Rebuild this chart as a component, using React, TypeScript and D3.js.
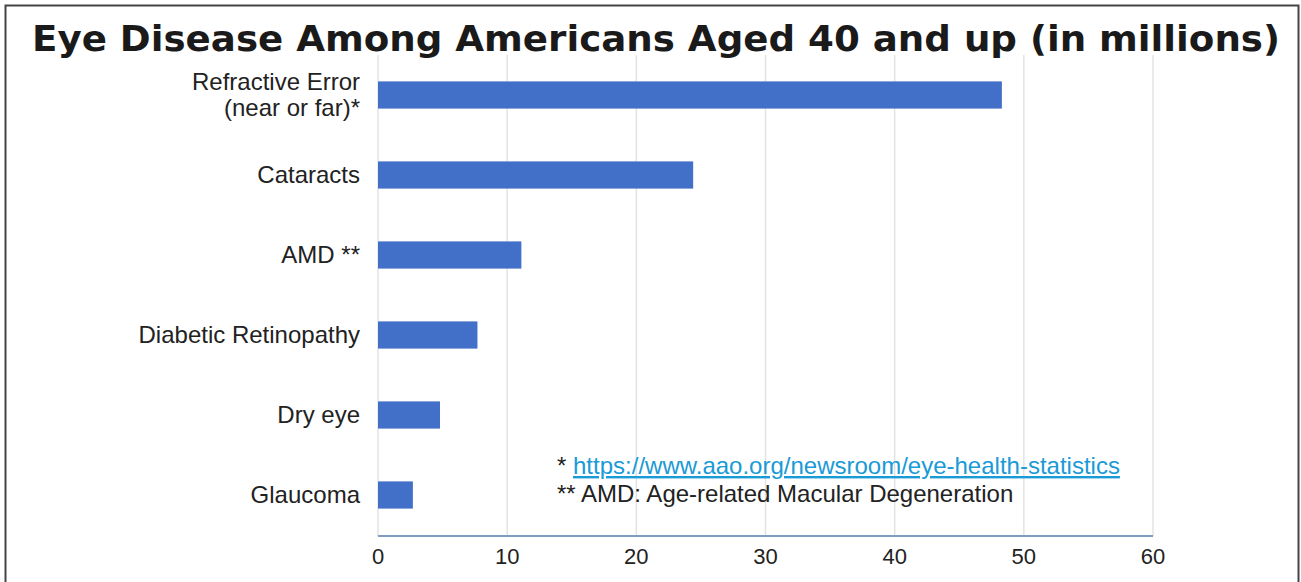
import React from "react";
import * as d3 from "d3";

const categories = [
  ["Refractive Error", "(near or far)*"],
  ["Cataracts"],
  ["AMD **"],
  ["Diabetic Retinopathy"],
  ["Dry eye"],
  ["Glaucoma"],
];
const values = [48.3, 24.4, 11.1, 7.7, 4.8, 2.7];
const xTicks = [0, 10, 20, 30, 40, 50, 60];
const title = "Eye Disease Among Americans Aged 40 and up (in millions)";
const footnote1Prefix = "* ";
const footnote1Link = "https://www.aao.org/newsroom/eye-health-statistics";
const footnote2 = "** AMD: Age-related Macular Degeneration";

const W = 1301;
const H = 582;

export default function App() {
  const x = d3.scaleLinear().domain([0, 60]).range([378, 1153]);
  const y = d3
    .scaleBand<number>()
    .domain(d3.range(categories.length))
    .range([55, 535])
    .paddingInner(0.66)
    .paddingOuter(0.33);
  const bw = y.bandwidth();
  const labelFont = "'Liberation Sans', Arial, sans-serif";

  return (
    <svg
      width={W}
      height={H}
      style={{ position: "absolute", left: 0, top: 0, background: "#fff" }}
    >
      <rect x={0} y={0} width={W} height={H} fill="#fff" />
      <rect
        x={5.5}
        y={5.5}
        width={1293}
        height={H + 20}
        fill="none"
        stroke="#444"
        strokeWidth={2}
      />
      <text
        x={656}
        y={51}
        textAnchor="middle"
        fontFamily="'DejaVu Sans', Verdana, sans-serif"
        fontWeight="bold"
        fontSize={36}
        fill="#1a1a1a"
        textLength={1248}
        lengthAdjust="spacingAndGlyphs"
      >
        {title}
      </text>
      {xTicks.map((t) => (
        <line
          key={"g" + t}
          x1={x(t)}
          x2={x(t)}
          y1={55}
          y2={536}
          stroke="#e3e3e3"
          strokeWidth={1.5}
        />
      ))}
      {values.map((v, i) => (
        <rect
          key={"b" + i}
          x={x(0)}
          y={y(i)}
          width={x(v) - x(0)}
          height={bw}
          fill="#4270C8"
        />
      ))}
      <line x1={x(0)} x2={x(60)} y1={536} y2={536} stroke="#7f9dc0" strokeWidth={2} />
      {xTicks.map((t) => (
        <text
          key={"t" + t}
          x={x(t)}
          y={564}
          textAnchor="middle"
          fontFamily={labelFont}
          fontSize={22}
          fill="#222"
        >
          {t}
        </text>
      ))}
      {categories.map((lines, i) => {
        const cy = (y(i) as number) + bw / 2;
        const lh = 26;
        const start = cy - ((lines.length - 1) * lh) / 2;
        return (
          <text
            key={"c" + i}
            textAnchor="end"
            fontFamily={labelFont}
            fontSize={24}
            fill="#222"
          >
            {lines.map((l, j) => (
              <tspan key={j} x={360} y={start + j * lh + 8}>
                {l}
              </tspan>
            ))}
          </text>
        );
      })}
      <text x={557} y={474} fontFamily={labelFont} fontSize={24} fill="#222">
        {footnote1Prefix}
        <tspan fill="#1a9ad6" textDecoration="underline">
          {footnote1Link}
        </tspan>
      </text>
      <text x={557} y={502} fontFamily={labelFont} fontSize={24} fill="#222">
        {footnote2}
      </text>
    </svg>
  );
}
